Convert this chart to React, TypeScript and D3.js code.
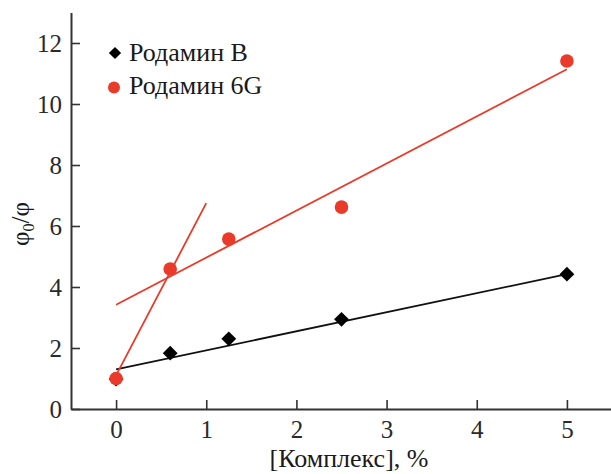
import React, { useEffect, useRef } from 'react';
import * as d3 from 'd3';

// concentrations of the complex, %
const conc = [0, 0.6, 1.25, 2.5, 5];
const rhodB = [0.98, 1.83, 2.3, 2.94, 4.42];
const rhod6G = [1.0, 4.59, 5.57, 6.62, 11.41];

// fitted lines, [x, y] end points
const fitB = [[0, 1.3], [5, 4.42]];
const fit6G = [[0, 3.42], [5, 11.14]];
const fit6Gsteep = [[0, 1.1], [1, 6.75]];

const xTicks = [0, 1, 2, 3, 4, 5];
const yTicks = [0, 2, 4, 6, 8, 10, 12];

const W = 611, H = 474;
const RED = '#ea3a2a';
const FONT = "'Liberation Serif', 'Times New Roman', 'DejaVu Serif', serif";

export default function App() {
  const ref = useRef<SVGSVGElement>(null);

  useEffect(() => {
    const svg = d3.select(ref.current);
    svg.selectAll('*').remove();

    const x = d3.scaleLinear().domain([-0.5, 5.5]).range([71, 612]);
    const y = d3.scaleLinear().domain([0, 13]).range([409, 12.5]);

    const g = svg.append('g');

    // axes, ticks point inwards
    const xAxis = g.append('g')
      .attr('transform', `translate(0,${y(0)})`)
      .call(d3.axisBottom(x).tickValues(xTicks).tickFormat(d3.format('d'))
        .tickSizeInner(-9).tickSizeOuter(0).tickPadding(11));
    const yAxis = g.append('g')
      .attr('transform', `translate(${x(-0.5)},0)`)
      .call(d3.axisLeft(y).tickValues(yTicks).tickFormat(d3.format('d'))
        .tickSizeInner(-9).tickSizeOuter(0).tickPadding(9));

    for (const a of [xAxis, yAxis]) {
      a.attr('font-family', null).attr('font-size', null);
      a.select('.domain').attr('stroke', '#333').attr('stroke-width', 2);
      a.selectAll('.tick line').attr('stroke', '#333').attr('stroke-width', 1.6);
      a.selectAll('.tick text')
        .attr('fill', '#2a2a2a')
        .style('font-family', FONT)
        .style('font-size', '25px');
    }

    // fit lines
    const line = d3.line<number[]>().x(d => x(d[0])).y(d => y(d[1]));
    g.append('path').attr('d', line(fitB)).attr('stroke', '#111').attr('stroke-width', 1.8).attr('fill', 'none');
    g.append('path').attr('d', line(fit6G)).attr('stroke', RED).attr('stroke-width', 1.8).attr('fill', 'none');
    g.append('path').attr('d', line(fit6Gsteep)).attr('stroke', RED).attr('stroke-width', 1.8).attr('fill', 'none');

    const diamond = d3.symbol().type(d3.symbolSquare).size(110);

    // Rhodamine B
    g.selectAll('path.rb').data(conc).enter().append('path')
      .attr('class', 'rb')
      .attr('d', diamond())
      .attr('transform', (d, i) => `translate(${x(d)},${y(rhodB[i])}) rotate(45)`)
      .attr('fill', '#000');

    // Rhodamine 6G
    g.selectAll('circle.r6').data(conc).enter().append('circle')
      .attr('class', 'r6')
      .attr('cx', d => x(d))
      .attr('cy', (d, i) => y(rhod6G[i]))
      .attr('r', 6.8)
      .attr('fill', RED);

    // legend
    const lg = g.append('g').style('font-family', FONT).style('font-size', '26px').attr('fill', '#1a1a1a');
    lg.append('path').attr('d', d3.symbol().type(d3.symbolSquare).size(75)())
      .attr('transform', 'translate(115,53) rotate(45)').attr('fill', '#000');
    lg.append('text').attr('x', 129).attr('y', 61).text('Родамин B');
    lg.append('circle').attr('cx', 114).attr('cy', 87.5).attr('r', 6).attr('fill', RED);
    lg.append('text').attr('x', 129).attr('y', 94).text('Родамин 6G');

    // axis titles
    g.append('text')
      .attr('x', 349).attr('y', 467)
      .attr('text-anchor', 'middle')
      .style('font-family', FONT).style('font-size', '26px').attr('fill', '#1a1a1a')
      .text('[Комплекс], %');

    const yl = g.append('text')
      .attr('transform', 'translate(29,224) rotate(-90)')
      .attr('text-anchor', 'middle')
      .style('font-family', FONT).style('font-size', '25px').attr('fill', '#1a1a1a');
    yl.append('tspan').text('φ');
    yl.append('tspan').style('font-size', '16px').attr('dy', 5).text('0');
    yl.append('tspan').attr('dy', -5).text('/φ');
  }, []);

  return (
    <svg ref={ref} width={W} height={H}
      style={{ position: 'absolute', left: 0, top: 0, background: '#fff' }} />
  );
}
